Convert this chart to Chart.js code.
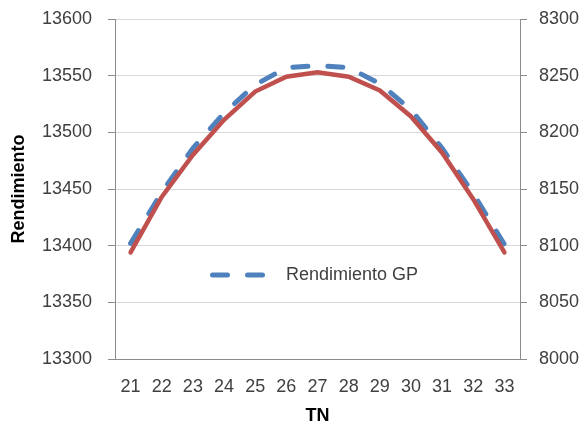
<!DOCTYPE html>
<html>
<head>
<meta charset="utf-8">
<script src="https://cdn.jsdelivr.net/npm/chart.js@4.4.1/dist/chart.umd.min.js"></script>
<style>
  html, body { margin: 0; padding: 0; background: #fff; }
  #wrap { width: 587px; height: 427px; position: relative; }
</style>
</head>
<body>
<div id="wrap"><canvas id="chart"></canvas></div>
<script>
const tnLabels = ["21", "22", "23", "24", "25", "26", "27", "28", "29", "30", "31", "32", "33"];
const rendimientoGP = [13402, 13447, 13486, 13517, 13542, 13557, 13559, 13557, 13543, 13520, 13486, 13446, 13401];
const rendimientoSec = [8094, 8143, 8180, 8211, 8236, 8249, 8253, 8249, 8237, 8214, 8182, 8141, 8094];

const FONT = "'Liberation Sans', Arial, sans-serif";
const BLUE = "#4f81bd";
const RED = "#c0504d";
const AXIS = "#8c8c8c";
const GRID = "#d9d9d9";
const TEXT = "#404040";

// leyenda dentro del área, como en Excel
const legendInside = {
  id: "legendInside",
  afterDatasetsDraw(chart) {
    const ctx = chart.ctx;
    ctx.save();
    ctx.strokeStyle = BLUE;
    ctx.lineWidth = 5;
    ctx.lineCap = "round";
    ctx.setLineDash([15, 20]);
    ctx.beginPath();
    ctx.moveTo(212.5, 275);
    ctx.lineTo(262.5, 275);
    ctx.stroke();
    ctx.setLineDash([]);
    ctx.fillStyle = TEXT;
    ctx.font = "18px " + FONT;
    ctx.textBaseline = "middle";
    ctx.fillText("Rendimiento GP", 286, 275);
    ctx.restore();
  }
};

const plain = v => String(v);

new Chart(document.getElementById("chart"), {
  type: "line",
  data: {
    labels: tnLabels,
    datasets: [
      {
        label: "Rendimiento GP",
        data: rendimientoGP,
        yAxisID: "y",
        borderColor: BLUE,
        borderWidth: 5,
        borderDash: [15, 20],
        borderCapStyle: "round",
        pointRadius: 0,
        tension: 0,
        order: 2
      },
      {
        label: "Rendimiento",
        data: rendimientoSec,
        yAxisID: "y1",
        borderColor: RED,
        borderWidth: 4.5,
        borderCapStyle: "round",
        pointRadius: 0,
        tension: 0,
        order: 1
      }
    ]
  },
  options: {
    responsive: true,
    maintainAspectRatio: false,
    animation: false,
    layout: { padding: { top: 19, left: 0, right: 0, bottom: 0 } },
    plugins: { legend: { display: false }, tooltip: { enabled: false } },
    scales: {
      x: {
        offset: true,
        grid: { display: false, drawTicks: false },
        border: { display: true, color: AXIS, width: 1 },
        ticks: { color: TEXT, font: { family: FONT, size: 18 }, padding: 17, maxRotation: 0 },
        title: { display: true, text: "TN", color: "#000", font: { family: FONT, size: 18, weight: "bold" }, padding: { top: 0, bottom: 0 } },
        afterFit(s) { s.height = 68; s.paddingLeft = 0; s.paddingRight = 0; }
      },
      y: {
        position: "left",
        min: 13300,
        max: 13600,
        ticks: { stepSize: 50, color: TEXT, font: { family: FONT, size: 18 }, padding: 16, callback: plain },
        grid: { color: GRID, tickColor: AXIS, tickLength: 7 },
        border: { display: true, color: AXIS, width: 1 },
        title: { display: true, text: "Rendimiento", color: "#000", font: { family: FONT, size: 18, weight: "bold" }, padding: { top: 8, bottom: 0 } },
        afterFit(s) { s.width = 115; s.paddingTop = 0; s.paddingBottom = 0; }
      },
      y1: {
        position: "right",
        min: 8000,
        max: 8300,
        ticks: { stepSize: 50, color: TEXT, font: { family: FONT, size: 18 }, padding: 12, callback: plain },
        grid: { drawOnChartArea: false, tickColor: AXIS, tickLength: 7 },
        border: { display: true, color: AXIS, width: 1 },
        afterFit(s) { s.width = 67; s.paddingTop = 0; s.paddingBottom = 0; }
      }
    }
  },
  plugins: [legendInside]
});
</script>
</body>
</html>
